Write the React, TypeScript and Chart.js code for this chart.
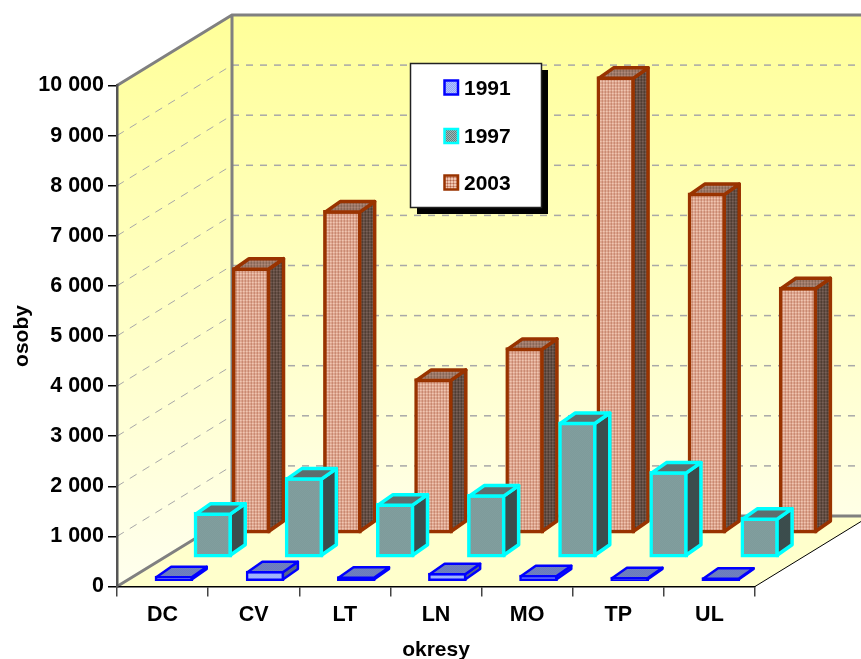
import React, { useEffect, useRef } from "react";
import { Chart, registerables } from "chart.js";

Chart.register(...registerables);

const categories = ["DC", "CV", "LT", "LN", "MO", "TP", "UL"];
const seriesNames = ["1991", "1997", "2003"];
const values1991 = [110, 210, 100, 170, 130, 90, 80];
const values1997 = [906, 1606, 1086, 1266, 2716, 1726, 806];
const values2003 = [5320, 6460, 3100, 3720, 9130, 6810, 4930];
const yMax = 10000;
const yStep = 1000;

const FONT = '"Liberation Sans", Arial, sans-serif';
const WALL_DX = 115;
const WALL_DY = -70.5;
const BAR_DX = 15;
const BAR_DY = -10.5;

function tile(size: number, cells: string[][]) {
  const c = document.createElement("canvas");
  c.width = size;
  c.height = size;
  const g = c.getContext("2d")!;
  cells.forEach((row, y) =>
    row.forEach((col, x) => {
      g.fillStyle = col;
      g.fillRect(x, y, 1, 1);
    })
  );
  return g.createPattern(c, "repeat")!;
}

function plaid(a: string, b: string, d: string) {
  return tile(3, [
    [d, b, b],
    [b, a, a],
    [b, a, a],
  ]);
}
function dither(a: string, b: string) {
  return tile(2, [
    [a, b],
    [b, a],
  ]);
}

export default function App() {
  const ref = useRef<HTMLCanvasElement>(null);

  useEffect(() => {
    const looks = [
      {
        border: "#0000ff",
        width: 2.5,
        front: dither("#b4c4ff", "#8ea4f8"),
        top: dither("#5b6cb4", "#8090c8"),
        side: dither("#3f4f80", "#6f7f98"),
        shift: [11.4, -5],
      },
      {
        border: "#00ffff",
        width: 3.5,
        front: dither("#5c8484", "#a4b6b6"),
        top: dither("#4c5f5f", "#6f7f7f"),
        side: dither("#2c3e3e", "#4c5c5c"),
        shift: [50.4, -28.7],
      },
      {
        border: "#993300",
        width: 3.5,
        front: plaid("#efc6b2", "#d4937a", "#b06850"),
        top: plaid("#b08878", "#907060", "#705040"),
        side: plaid("#786058", "#584438", "#382820"),
        shift: [88.7, -52.5],
      },
    ];

    const scene = {
      id: "scene",
      beforeDraw(chart: any) {
        const { ctx } = chart;
        const x0 = chart.scales.x.left;
        const x1 = chart.scales.x.right;
        const y = chart.scales.y;
        const bot = y.getPixelForValue(0);
        const top = y.getPixelForValue(yMax);
        const bx = x0 + WALL_DX;
        const W = chart.width + 40;
        ctx.save();
        let g = ctx.createLinearGradient(0, top + WALL_DY, 0, bot);
        g.addColorStop(0, "#ffff99");
        g.addColorStop(1, "#ffffee");
        ctx.fillStyle = g;
        ctx.beginPath();
        ctx.moveTo(x0, top);
        ctx.lineTo(bx, top + WALL_DY);
        ctx.lineTo(bx, bot + WALL_DY);
        ctx.lineTo(x0, bot);
        ctx.closePath();
        ctx.fill();
        g = ctx.createLinearGradient(0, top + WALL_DY, 0, bot + WALL_DY);
        g.addColorStop(0, "#ffff99");
        g.addColorStop(1, "#ffffe6");
        ctx.fillStyle = g;
        ctx.fillRect(bx, top + WALL_DY, W - bx, bot - top);
        ctx.fillStyle = "#ffffcc";
        ctx.beginPath();
        ctx.moveTo(x0, bot);
        ctx.lineTo(x1, bot);
        ctx.lineTo(x1 + WALL_DX, bot + WALL_DY);
        ctx.lineTo(bx, bot + WALL_DY);
        ctx.closePath();
        ctx.fill();
        ctx.strokeStyle = "#a8a8a8";
        for (let v = yStep; v < yMax; v += yStep) {
          const p = y.getPixelForValue(v);
          ctx.lineWidth = 1;
          ctx.setLineDash([8, 7]);
          ctx.beginPath();
          ctx.moveTo(x0, p);
          ctx.lineTo(bx, p + WALL_DY);
          ctx.stroke();
          ctx.lineWidth = 1.5;
          ctx.setLineDash([7, 7]);
          ctx.beginPath();
          ctx.moveTo(bx, p + WALL_DY);
          ctx.lineTo(W, p + WALL_DY);
          ctx.stroke();
        }
        ctx.setLineDash([]);
        ctx.strokeStyle = "#808080";
        ctx.lineWidth = 3;
        ctx.beginPath();
        ctx.moveTo(x0, top);
        ctx.lineTo(bx, top + WALL_DY);
        ctx.lineTo(W, top + WALL_DY);
        ctx.moveTo(bx, top + WALL_DY);
        ctx.lineTo(bx, bot + WALL_DY);
        ctx.lineTo(W, bot + WALL_DY);
        ctx.moveTo(x0, bot);
        ctx.lineTo(bx, bot + WALL_DY);
        ctx.stroke();
        ctx.strokeStyle = "#000";
        ctx.lineWidth = 1;
        ctx.beginPath();
        ctx.moveTo(x1, bot);
        ctx.lineTo(x1 + WALL_DX, bot + WALL_DY);
        ctx.stroke();
        ctx.restore();
      },
      beforeDatasetDraw(chart: any, args: any) {
        const s = looks[args.index].shift;
        chart.ctx.save();
        chart.ctx.translate(s[0], s[1]);
      },
      afterDatasetDraw(chart: any, args: any) {
        const { ctx } = chart;
        const look = looks[args.index];
        const i = look.width / 2;
        ctx.lineWidth = look.width;
        ctx.lineJoin = "round";
        ctx.strokeStyle = look.border;
        for (const bar of args.meta.data) {
          const p = bar.getProps(["x", "y", "base", "width"], true);
          const l = p.x - p.width / 2 + i;
          const r = p.x + p.width / 2 - i;
          const mid = (p.y + p.base) / 2;
          const t = Math.min(p.y + i, mid);
          const b = Math.max(p.base - i, mid);
          ctx.fillStyle = look.side;
          ctx.beginPath();
          ctx.moveTo(r, t);
          ctx.lineTo(r + BAR_DX, t + BAR_DY);
          ctx.lineTo(r + BAR_DX, b + BAR_DY);
          ctx.lineTo(r, b);
          ctx.closePath();
          ctx.fill();
          ctx.stroke();
          ctx.fillStyle = look.top;
          ctx.beginPath();
          ctx.moveTo(l, t);
          ctx.lineTo(l + BAR_DX, t + BAR_DY);
          ctx.lineTo(r + BAR_DX, t + BAR_DY);
          ctx.lineTo(r, t);
          ctx.closePath();
          ctx.fill();
          ctx.stroke();
        }
        ctx.restore();
      },
      afterDraw(chart: any) {
        const { ctx } = chart;
        ctx.save();
        ctx.fillStyle = "#000";
        ctx.fillRect(417, 70, 131, 144);
        ctx.fillStyle = "#fff";
        ctx.fillRect(410.5, 63.5, 131, 144);
        ctx.strokeStyle = "#222";
        ctx.lineWidth = 1.5;
        ctx.strokeRect(410.5, 63.5, 131, 144);
        const ys = [88, 136.5, 183];
        seriesNames.forEach((name, k) => {
          ctx.fillStyle = looks[k].front;
          ctx.strokeStyle = looks[k].border;
          ctx.lineWidth = 2.5;
          ctx.fillRect(444.5, ys[k] - 7.5, 13.5, 14);
          ctx.strokeRect(444.5, ys[k] - 7.5, 13.5, 14);
          ctx.fillStyle = "#000";
          ctx.font = `bold 21px ${FONT}`;
          ctx.textBaseline = "middle";
          ctx.textAlign = "left";
          ctx.fillText(name, 464, ys[k] + 1);
        });
        ctx.restore();
      },
    };

    const chart = new Chart(ref.current!, {
      type: "bar",
      data: {
        labels: categories,
        datasets: [values1991, values1997, values2003].map((data, k) => ({
          label: seriesNames[k],
          data,
          backgroundColor: looks[k].front,
          borderColor: looks[k].border,
          borderWidth: looks[k].width,
          borderSkipped: false,
          barThickness: 38,
          grouped: false,
          clip: false,
        })) as any,
      },
      options: {
        animation: false,
        responsive: false,
        devicePixelRatio: 1,
        layout: { padding: { top: 85.5, right: 106, left: 0, bottom: 0 } },
        plugins: { legend: { display: false }, tooltip: { enabled: false } },
        scales: {
          x: {
            grid: { drawOnChartArea: false, color: "#444", lineWidth: 1.5, tickLength: 10 },
            border: { color: "#000", width: 1.5 },
            ticks: {
              color: "#000",
              padding: 6,
              maxRotation: 0,
              font: { family: FONT, size: 21.5, weight: "bold" },
            },
            title: {
              display: true,
              text: "okresy",
              color: "#000",
              padding: { top: 0, bottom: -2 },
              font: { family: FONT, size: 21, weight: "bold", lineHeight: 1 },
            },
            afterFit: (s: any) => {
              s.height = 72.5;
            },
          },
          y: {
            min: 0,
            max: yMax,
            grid: { drawOnChartArea: false, color: "#000", lineWidth: 1.5, tickLength: 9 },
            border: { color: "#555", width: 2.5 },
            ticks: {
              stepSize: yStep,
              color: "#000",
              padding: 4,
              font: { family: FONT, size: 21.5, weight: "bold" },
              callback: (v: any) => String(v).replace(/\B(?=(\d{3})+$)/g, " "),
            },
            title: {
              display: true,
              text: "osoby",
              color: "#000",
              padding: { top: 12, bottom: 0 },
              font: { family: FONT, size: 21, weight: "bold", lineHeight: 1 },
            },
            afterFit: (s: any) => {
              s.width = 117;
            },
          },
        },
      },
      plugins: [scene],
    } as any);
    return () => chart.destroy();
  }, []);

  return (
    <div style={{ position: "absolute", left: 0, top: 0, width: 861, height: 659 }}>
      <canvas ref={ref} width={861} height={659} style={{ display: "block" }} />
    </div>
  );
}
